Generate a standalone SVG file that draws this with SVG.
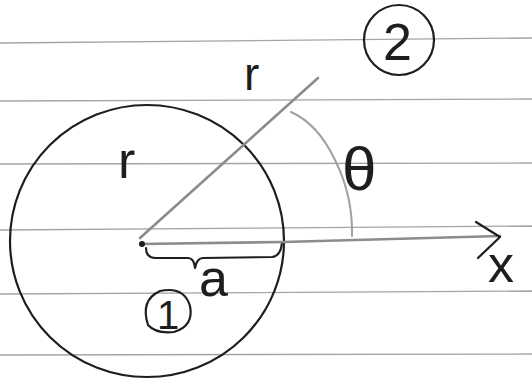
<svg xmlns="http://www.w3.org/2000/svg" width="532" height="379" viewBox="0 0 532 379">
<style>
.rule{stroke:#a5a5a5;stroke-width:1.3}
.ink{fill:none;stroke:#1e1e1e;stroke-width:2.2;stroke-linecap:round;stroke-linejoin:round}
.pencil{fill:none;stroke:#8c8c8c;stroke-width:2.6;stroke-linecap:round;stroke-linejoin:round}
.faint{fill:none;stroke:#a0a0a0;stroke-width:2;stroke-linecap:round}
.lbl{font-family:"Liberation Sans",Arial,sans-serif;fill:#1e1e1e}
</style>
<rect width="532" height="379" fill="#ffffff"/>
<g id="ruled-lines">
<line class="rule" x1="0" y1="43" x2="532" y2="38"/>
<line class="rule" x1="0" y1="101" x2="532" y2="99"/>
<line class="rule" x1="0" y1="164" x2="532" y2="163"/>
<line class="rule" x1="0" y1="230" x2="532" y2="226"/>
<line class="rule" x1="0" y1="294" x2="532" y2="291"/>
<line class="rule" x1="0" y1="355" x2="532" y2="354"/>
</g>
<g id="region-1">
<ellipse class="ink" cx="147" cy="241" rx="137" ry="136"/>
<text class="lbl" x="118" y="178" font-size="52">r</text>
<path class="ink" d="M148 325 Q140 300 160 291 Q184 286 190 306 Q194 326 174 332 Q156 334 148 325"/>
<text class="lbl" x="157" y="329" font-size="40">1</text>
</g>
<g id="point-2">
<ellipse class="ink" cx="399" cy="40" rx="35" ry="35"/>
<text class="lbl" x="383" y="60" font-size="52">2</text>
</g>
<g id="angle">
<path class="faint" d="M291 112 Q318 124 335 160 Q353 196 352 236"/>
<text class="lbl" x="342" y="190" font-size="62">θ</text>
</g>
<g id="dimension-a">
<path class="ink" d="M146 248 Q146 258 156 258 L188 258 Q194 258 195 268 Q197 258 203 258 L272 257 Q281 256 282 242"/>
<text class="lbl" x="199" y="296" font-size="52">a</text>
</g>
<g id="connectors">
<path class="pencil" d="M140 238 L318 78"/>
<text class="lbl" x="244" y="90" font-size="46">r</text>
<path class="pencil" d="M140 244 L283 242 L500 236" stroke="#555"/>
<polyline class="ink" points="476,222 500,237 478,258"/>
<circle cx="142" cy="244" r="3" fill="#1e1e1e"/>
<text class="lbl" x="488" y="282" font-size="52">x</text>
</g>
</svg>
